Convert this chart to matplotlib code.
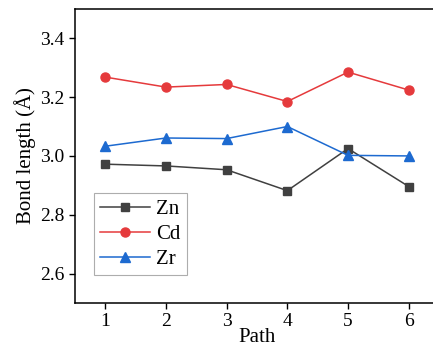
import numpy as np
import matplotlib.pyplot as plt

plt.rcParams['font.family'] = ['Liberation Serif', 'DejaVu Serif']
plt.rcParams['mathtext.fontset'] = 'stix'

path = [1, 2, 3, 4, 5, 6]
zn = [2.972, 2.966, 2.953, 2.882, 3.025, 2.896]
cd = [3.268, 3.234, 3.243, 3.185, 3.285, 3.224]
zr = [3.033, 3.061, 3.059, 3.100, 3.002, 3.000]

fig = plt.figure(figsize=(4.33, 3.54), dpi=100)
ax = fig.add_axes([0.173, 0.144, 0.841, 0.831])

ax.plot(path, zn, '-s', color='#404040', lw=1.1, ms=6, label='Zn')
ax.plot(path, cd, '-o', color='#e53a3c', lw=1.1, ms=6.5, label='Cd')
ax.plot(path, zr, '-^', color='#1d6ad0', lw=1.1, ms=7, label='Zr')

ax.set_xlim(0.5, 6.5)
ax.set_ylim(2.5, 3.5)
ax.set_xticks(path)
ax.set_yticks([2.6, 2.8, 3.0, 3.2, 3.4])
ax.tick_params(direction='out', length=4, width=1, labelsize=14)
for s in ax.spines.values():
    s.set_linewidth(1.1)

ax.set_xlabel('Path', fontsize=15, labelpad=-2)
ax.set_ylabel('Bond length (Å)', fontsize=15, labelpad=3)

leg = ax.legend(loc='lower left', bbox_to_anchor=(0.052, 0.095), fontsize=15,
                frameon=True, fancybox=False, edgecolor='#999999',
                handlelength=2.4, handletextpad=0.3, borderpad=0.3,
                labelspacing=0.25, borderaxespad=0)
leg.get_frame().set_linewidth(0.8)

fig.savefig('out.png', dpi=100)
